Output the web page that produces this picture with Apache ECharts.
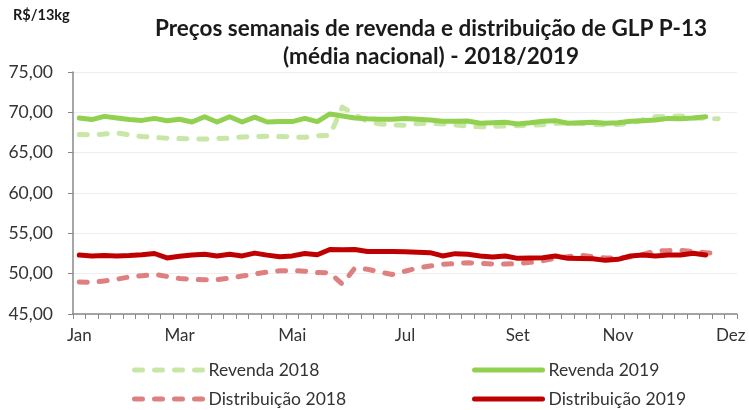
<!DOCTYPE html>
<html>
<head>
<meta charset="utf-8">
<script src="https://cdn.jsdelivr.net/npm/echarts@6/dist/echarts.min.js"></script>
<style>
  html, body { margin: 0; padding: 0; background: #fff; }
  #chart { width: 749px; height: 410px; }
</style>
</head>
<body>
<div id="chart"></div>
<script>
// semanas do ano (categorias do eixo x)
const weeks = ['1','2','3','4','5','6','7','8','9','10','11','12','13','14','15','16','17','18',
  '19','20','21','22','23','24','25','26','27','28','29','30','31','32','33','34','35','36',
  '37','38','39','40','41','42','43','44','45','46','47','48','49','50','51','52','53']
// rótulos de mês e a semana onde aparecem
const monthIdx = [0, 8, 17, 26, 35, 43, 52]
const monthNames = ['Jan', 'Mar', 'Mai', 'Jul', 'Set', 'Nov', 'Dez']

const revenda2018 = [67.25, 67.2, 67.3, 67.45, 67.2, 67.0, 66.9, 66.8, 66.75, 66.7, 66.7, 66.75, 66.8,
  66.95, 67.0, 67.05, 67.0, 66.95, 66.9, 67.1, 67.15, 70.65, 69.7, 68.85, 68.55, 68.45, 68.4, 68.6,
  68.65, 68.55, 68.45, 68.3, 68.2, 68.25, 68.3, 68.35, 68.4, 68.45, 68.6, 68.7, 68.6, 68.5, 68.45,
  68.5, 68.65, 69.1, 69.45, 69.5, 69.55, 69.3, 69.25, 69.2]
const revenda2019 = [69.3, 69.1, 69.5, 69.3, 69.1, 69.0, 69.25, 68.95, 69.15, 68.8, 69.45, 68.8, 69.45,
  68.8, 69.4, 68.8, 68.85, 68.85, 69.25, 68.85, 69.8, 69.55, 69.3, 69.2, 69.15, 69.15, 69.25, 69.15,
  69.05, 68.9, 68.9, 68.93, 68.65, 68.7, 68.76, 68.56, 68.7, 68.9, 68.97, 68.64, 68.7, 68.76, 68.66,
  68.7, 68.9, 68.97, 69.05, 69.25, 69.2, 69.3, 69.46]
const distrib2018 = [48.97, 48.9, 49.1, 49.3, 49.6, 49.75, 49.92, 49.65, 49.4, 49.3, 49.25, 49.25,
  49.45, 49.7, 49.95, 50.2, 50.35, 50.4, 50.3, 50.15, 50.1, 48.7, 50.7, 50.55, 50.2, 49.9, 50.3, 50.7,
  50.95, 51.15, 51.25, 51.35, 51.3, 51.2, 51.2, 51.25, 51.4, 51.6, 51.9, 52.1, 52.3, 52.1, 51.95, 51.9,
  52.1, 52.4, 52.8, 52.85, 52.9, 52.75, 52.6, 52.48]
const distrib2019 = [52.3, 52.2, 52.25, 52.2, 52.25, 52.35, 52.5, 51.95, 52.15, 52.3, 52.4, 52.2, 52.4,
  52.2, 52.55, 52.3, 52.1, 52.2, 52.5, 52.35, 53.0, 52.95, 53.0, 52.75, 52.75, 52.75, 52.72, 52.65,
  52.6, 52.2, 52.48, 52.4, 52.2, 52.07, 52.19, 51.9, 51.95, 51.98, 52.19, 51.9, 51.88, 51.86, 51.65,
  51.78, 52.19, 52.32, 52.2, 52.3, 52.32, 52.53, 52.32]

const font = 'Lato'
const ins = echarts.init(document.getElementById('chart'))

function line(name, data, color, dashed) {
  return {
    name: name,
    type: 'line',
    data: data,
    symbol: 'none',
    smooth: false,
    lineStyle: {
      color: color,
      width: 5,
      type: dashed ? [8, 12] : 'solid',
      cap: 'round',
      join: 'round'
    },
    itemStyle: { color: color }
  }
}

// uma legenda por item, em grade 2x2
function leg(name, left, top) {
  return {
    data: [name],
    left: left,
    top: top,
    padding: 0,
    itemWidth: 68,
    itemHeight: 10,
    itemGap: 8,
    itemStyle: { opacity: 0 },
    lineStyle: { width: 5 },
    textStyle: { fontSize: 17.5, color: '#333', fontFamily: font, padding: [0, 0, 0, 1] }
  }
}

ins.setOption({
  animation: false,
  textStyle: { fontFamily: font },
  title: [{
    text: 'Preços semanais de revenda e distribuição de GLP P-13\n(média nacional) - 2018/2019',
    left: 426,
    top: 10,
    textAlign: 'center',
    textStyle: { fontSize: 22.5, fontWeight: 'bold', color: '#1a1a1a', lineHeight: 28, fontFamily: font }
  }, {
    text: 'R$/13kg',
    left: 8,
    top: 3,
    textStyle: { fontSize: 14.5, fontWeight: 'bold', color: '#1a1a1a', fontFamily: font }
  }],
  grid: { left: 73, right: 12, top: 72, bottom: 96 },
  xAxis: {
    type: 'category',
    data: weeks,
    boundaryGap: true,
    axisLine: { lineStyle: { color: '#888', width: 1.5 } },
    axisTick: { show: true, interval: 0, length: 5, lineStyle: { color: '#888' } },
    axisLabel: {
      interval: 0,
      margin: 13,
      fontSize: 17,
      color: '#333',
      formatter: function (v, i) {
        let k = monthIdx.indexOf(i)
        return k >= 0 ? monthNames[k] : ''
      }
    },
    splitLine: { show: false }
  },
  yAxis: {
    type: 'value',
    min: 45,
    max: 75,
    interval: 5,
    axisLine: { show: true, lineStyle: { color: '#888', width: 1.5 } },
    axisTick: { show: true, length: 5, lineStyle: { color: '#888' } },
    axisLabel: {
      fontSize: 17.5,
      color: '#333',
      margin: 20,
      formatter: v => v.toFixed(2).replace('.', ',')
    },
    splitLine: { lineStyle: { color: '#eeeeee', width: 1 } }
  },
  legend: [
    leg('Revenda 2018', 132, 361),
    leg('Revenda 2019', 472, 361),
    leg('Distribuição 2018', 132, 390),
    leg('Distribuição 2019', 472, 390)
  ],
  series: [
    line('Revenda 2018', revenda2018, '#c8e7a7', true),
    line('Distribuição 2018', distrib2018, '#df8080', true),
    line('Revenda 2019', revenda2019, '#92d050', false),
    line('Distribuição 2019', distrib2019, '#c00000', false)
  ]
})
</script>
</body>
</html>
